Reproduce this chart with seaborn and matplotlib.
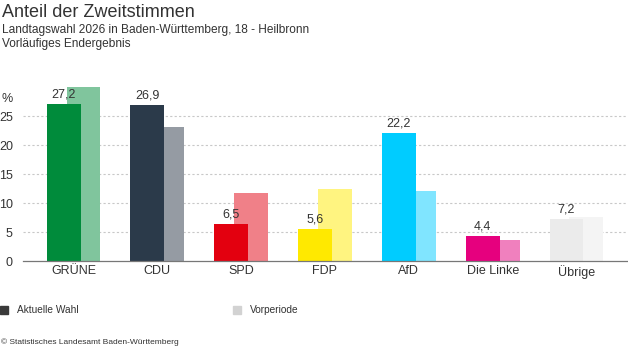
import matplotlib
matplotlib.use("Agg")
import matplotlib.pyplot as plt
import seaborn as sns
import numpy as np
import pandas as pd

parties = ["GRÜNE", "CDU", "SPD", "FDP", "AfD", "Die Linke", "Übrige"]
aktuell = [27.2, 26.9, 6.5, 5.6, 22.2, 4.4, 7.2]
vorperiode = [30.1, 23.2, 11.8, 12.5, 12.1, 3.7, 7.6]
farben_akt = ["#008b3b", "#2b3a4a", "#e3000f", "#ffe900", "#00ccff", "#e6007e", "#ebebeb"]
farben_vor = ["#80c59d", "#959ba3", "#f08088", "#fff480", "#80e5ff", "#f080be", "#f4f4f4"]
yticks = [0, 5, 10, 15, 20, 25]

sns.set_theme(style="white")
plt.rcParams["font.family"] = ["Liberation Sans", "DejaVu Sans"]

fig = plt.figure(figsize=(6.28, 3.52), dpi=100)
ax = fig.add_axes([0.037, 0.258, 0.961, 0.494])

idx = np.arange(len(parties))
off = 0.119
df_vor = pd.DataFrame({"x": idx + off, "y": vorperiode, "p": parties})
df_akt = pd.DataFrame({"x": idx - off, "y": aktuell, "p": parties})

sns.barplot(data=df_vor, x="x", y="y", hue="p", palette=farben_vor, native_scale=True,
            width=0.405, dodge=False, saturation=1, legend=False, ax=ax, zorder=2,
            linewidth=0)
sns.barplot(data=df_akt, x="x", y="y", hue="p", palette=farben_akt, native_scale=True,
            width=0.405, dodge=False, saturation=1, legend=False, ax=ax, zorder=3,
            linewidth=0)

for xi, v in zip(idx - off, aktuell):
    ax.text(xi, v + 0.6, f"{v:.1f}".replace(".", ","), ha="center", va="bottom",
            fontsize=9, color="#333333", zorder=4)

ax.set_xlim(-0.6, 6.6)
ax.set_ylim(0, 30)
ax.set_xticks(idx)
ax.set_xticklabels(parties, fontsize=9, color="#333333")
ax.set_yticks(yticks)
ax.set_yticklabels([str(t) for t in yticks], fontsize=9, color="#333333")
ax.tick_params(axis="both", length=0, pad=3)
ax.tick_params(axis="y", pad=7.5)
ax.set_xlabel("")
ax.set_ylabel("")
for t in yticks[1:]:
    ax.axhline(t, color="#c8c8c8", lw=0.8, ls=(0, (2, 2)), zorder=1)
for s in ["top", "right", "left"]:
    ax.spines[s].set_visible(False)
ax.spines["bottom"].set_color("#777777")
ax.spines["bottom"].set_linewidth(0.9)
ax.spines["bottom"].set_zorder(5)

fig.text(0.003, 0.965, "Anteil der Zweitstimmen", fontsize=13, color="#333333", va="center")
fig.text(0.003, 0.916, "Landtagswahl 2026 in Baden-Württemberg, 18 - Heilbronn",
         fontsize=8.6, color="#333333", va="center")
fig.text(0.003, 0.876, "Vorläufiges Endergebnis", fontsize=8.6, color="#333333", va="center")
fig.text(0.003, 0.72, "%", fontsize=9, color="#333333", va="center")

fig.patches.append(plt.Rectangle((0.0, 0.107), 0.013, 0.024, transform=fig.transFigure,
                                 color="#3a3a3a", figure=fig))
fig.text(0.027, 0.119, "Aktuelle Wahl", fontsize=7.3, color="#333333", va="center")
fig.patches.append(plt.Rectangle((0.371, 0.107), 0.013, 0.024, transform=fig.transFigure,
                                 color="#d2d2d2", figure=fig))
fig.text(0.398, 0.119, "Vorperiode", fontsize=7.3, color="#333333", va="center")
fig.text(0.002, 0.028, "© Statistisches Landesamt Baden-Württemberg", fontsize=6,
         color="#333333", va="center")

fig.savefig("out.png", dpi=100)
